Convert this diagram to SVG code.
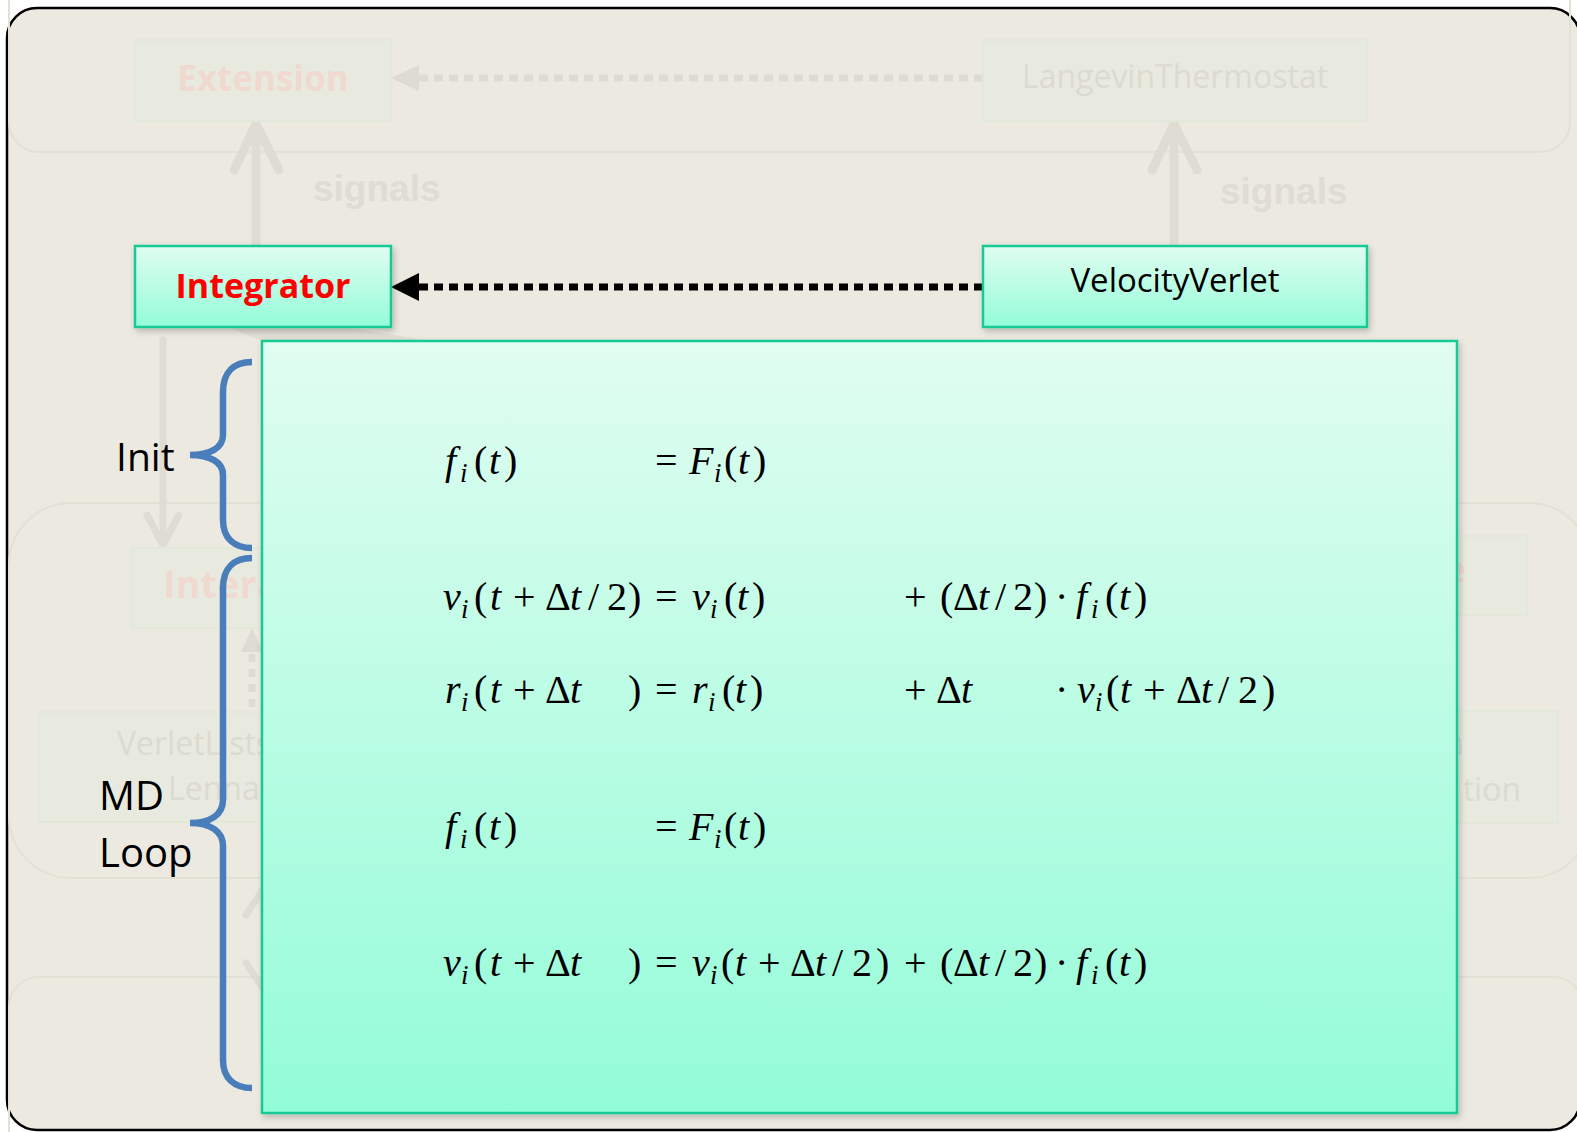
<svg xmlns="http://www.w3.org/2000/svg" width="1577" height="1132" viewBox="0 0 1577 1132">
<defs>
<linearGradient id="gBox" x1="0" y1="0" x2="0" y2="1">
<stop offset="0" stop-color="#E0FDF1"/>
<stop offset="1" stop-color="#93FCD8"/>
</linearGradient>
<filter id="sh" x="-10%" y="-10%" width="130%" height="130%">
<feDropShadow dx="2" dy="3" stdDeviation="3" flood-color="#000" flood-opacity="0.22"/>
</filter>
<style>
.fbox{fill:#E8EADF;stroke:#E2E9DA;stroke-width:2}
.lane{fill:none;stroke:#E3E0D5;stroke-width:2}
.ftxt{font-family:"Open Sans",sans-serif;fill:#DCDAD1}
.fred{font-family:"Open Sans",sans-serif;font-weight:bold;fill:#F0D9CF}
.sig{font-family:"Liberation Sans",Arial,sans-serif;font-weight:bold;font-size:37px;fill:#DFDCD4}
.fline{fill:none;stroke:#DFDCD4;stroke-linecap:round;stroke-linejoin:round}
.gbox{fill:url(#gBox);stroke:#19CA95;stroke-width:2.5;filter:url(#sh)}
.lbl{font-family:"Open Sans",sans-serif;fill:#000}
.brace{fill:none;stroke:#4A7EBB;stroke-width:6.5;stroke-linecap:butt}
.eq{font-family:"Liberation Serif","Times New Roman",serif;font-size:40px;fill:#000}
.it{font-style:italic}
.sub{font-style:italic;font-size:27px}
</style>
</defs>
<rect x="0" y="0" width="1577" height="1132" fill="#FFFFFF"/>
<rect id="frame" x="7" y="8" width="1573" height="1122" rx="30" fill="#ECE9E1" stroke="#000" stroke-width="2.5"/>

<g id="background-lanes">
<rect class="lane" x="9" y="-40" width="1561" height="192" rx="30"/>
<rect class="lane" x="9" y="503" width="1582" height="375" rx="62"/>
<rect class="lane" x="9" y="977" width="1574" height="200" rx="30"/>
</g>

<g id="faded-connectors">
<line x1="983" y1="78" x2="418" y2="78" stroke="#DEDBD2" stroke-width="7" stroke-dasharray="9 6"/>
<path d="M391,78 L419,65 L419,91 Z" fill="#DEDBD2"/>
<path class="fline" stroke-width="9" d="M256,245 L256,124 M234,170 L256,124 L279,170"/>
<path class="fline" stroke-width="9" d="M1174,245 L1174,124 M1152,170 L1174,124 L1197,170"/>
<path class="fline" stroke-width="7" d="M163,340 L163,545 M147,515 L163,545 L179,515"/>
<line x1="252" y1="722" x2="252" y2="652" stroke="#DEDBD2" stroke-width="7" stroke-dasharray="8 7"/>
<path d="M252,628 L241,652 L263,652 Z" fill="#DEDBD2"/>
<path class="fline" stroke-width="7" d="M264,888 L264,990 M246,915 L264,888 L282,915 M246,963 L264,990 L282,963"/>
</g>

<g id="node-extension">
<rect class="fbox" x="135" y="40" width="256" height="81"/>
<text class="fred" x="263" y="91" font-size="35" text-anchor="middle">Extension</text>
</g>
<g id="node-langevin">
<rect class="fbox" x="983" y="40" width="384" height="81"/>
<text class="ftxt" x="1175" y="88" font-size="32" text-anchor="middle">LangevinThermostat</text>
</g>
<text class="sig" x="313" y="201">signals</text>
<text class="sig" x="1220" y="204">signals</text>

<g id="node-interaction">
<rect class="fbox" x="132" y="548" width="300" height="80"/>
<text class="fred" x="163" y="598" font-size="38">Interaction</text>
</g>
<g id="node-right-mid">
<rect class="fbox" x="1300" y="536" width="227" height="79"/>
<text class="fred" x="1466" y="583" font-size="38" text-anchor="end">e</text>
</g>
<g id="node-verletlist">
<rect class="fbox" x="39" y="712" width="360" height="110"/>
<text class="ftxt" x="117" y="755" font-size="32">VerletLists</text>
<text class="ftxt" x="168" y="800" font-size="32">Lennard</text>
</g>
<g id="node-right-low">
<rect class="fbox" x="1300" y="711" width="258" height="112"/>
<text class="ftxt" x="1464" y="755" font-size="32" text-anchor="end">n</text>
<text class="ftxt" x="1521" y="801" font-size="32" text-anchor="end">tion</text>
</g>

<polygon points="228,327 346,327 430,341 262,341" fill="#DCD9D0" opacity="0.7"/>

<g id="connectors">
<line x1="983" y1="287" x2="417" y2="287" stroke="#000" stroke-width="7" stroke-dasharray="9 6"/>
<path d="M391,287 L419,273 L419,301 Z" fill="#000"/>
</g>

<g id="node-integrator">
<rect class="gbox" x="135" y="246" width="256" height="81"/>
<text x="263" y="298" font-family="Open Sans, sans-serif" font-weight="bold" font-size="34" fill="#FF0000" text-anchor="middle">Integrator</text>
</g>
<g id="node-velocityverlet">
<rect class="gbox" x="983" y="246" width="384" height="81"/>
<text class="lbl" x="1175" y="292" font-size="33" text-anchor="middle">VelocityVerlet</text>
</g>

<g id="node-equations">
<rect class="gbox" x="262" y="341" width="1195" height="772"/>
<text class="eq" y="474"><tspan x="445" class="it">f</tspan><tspan x="460" dy="8" class="sub">i</tspan><tspan x="474" dy="-8">(</tspan><tspan x="489" class="it">t</tspan><tspan x="504">)</tspan><tspan x="655">=</tspan><tspan x="689" class="it">F</tspan><tspan x="714" dy="8" class="sub">i</tspan><tspan x="724" dy="-8">(</tspan><tspan x="738" class="it">t</tspan><tspan x="753">)</tspan></text>
<text class="eq" y="610"><tspan x="443" class="it">v</tspan><tspan x="461" dy="8" class="sub">i</tspan><tspan x="474" dy="-8">(</tspan><tspan x="490" class="it">t</tspan><tspan x="513">+</tspan><tspan x="545">Δ</tspan><tspan x="570" class="it">t</tspan><tspan x="588">/</tspan><tspan x="607">2</tspan><tspan x="628">)</tspan><tspan x="655">=</tspan><tspan x="692" class="it">v</tspan><tspan x="710" dy="8" class="sub">i</tspan><tspan x="724" dy="-8">(</tspan><tspan x="737" class="it">t</tspan><tspan x="752">)</tspan><tspan x="904">+</tspan><tspan x="940">(</tspan><tspan x="953">Δ</tspan><tspan x="978" class="it">t</tspan><tspan x="995">/</tspan><tspan x="1013">2</tspan><tspan x="1034">)</tspan><tspan x="1055">·</tspan><tspan x="1076" class="it">f</tspan><tspan x="1091" dy="8" class="sub">i</tspan><tspan x="1105" dy="-8">(</tspan><tspan x="1119" class="it">t</tspan><tspan x="1134">)</tspan></text>
<text class="eq" y="703"><tspan x="445" class="it">r</tspan><tspan x="461" dy="8" class="sub">i</tspan><tspan x="474" dy="-8">(</tspan><tspan x="490" class="it">t</tspan><tspan x="513">+</tspan><tspan x="545">Δ</tspan><tspan x="570" class="it">t</tspan><tspan x="628">)</tspan><tspan x="655">=</tspan><tspan x="692" class="it">r</tspan><tspan x="708" dy="8" class="sub">i</tspan><tspan x="722" dy="-8">(</tspan><tspan x="735" class="it">t</tspan><tspan x="750">)</tspan><tspan x="904">+</tspan><tspan x="936">Δ</tspan><tspan x="961" class="it">t</tspan><tspan x="1055">·</tspan><tspan x="1077" class="it">v</tspan><tspan x="1095" dy="8" class="sub">i</tspan><tspan x="1106" dy="-8">(</tspan><tspan x="1120" class="it">t</tspan><tspan x="1143">+</tspan><tspan x="1176">Δ</tspan><tspan x="1201" class="it">t</tspan><tspan x="1218">/</tspan><tspan x="1238">2</tspan><tspan x="1262">)</tspan></text>
<text class="eq" y="840"><tspan x="445" class="it">f</tspan><tspan x="460" dy="8" class="sub">i</tspan><tspan x="474" dy="-8">(</tspan><tspan x="489" class="it">t</tspan><tspan x="504">)</tspan><tspan x="655">=</tspan><tspan x="689" class="it">F</tspan><tspan x="714" dy="8" class="sub">i</tspan><tspan x="724" dy="-8">(</tspan><tspan x="738" class="it">t</tspan><tspan x="753">)</tspan></text>
<text class="eq" y="976"><tspan x="443" class="it">v</tspan><tspan x="461" dy="8" class="sub">i</tspan><tspan x="474" dy="-8">(</tspan><tspan x="490" class="it">t</tspan><tspan x="513">+</tspan><tspan x="545">Δ</tspan><tspan x="570" class="it">t</tspan><tspan x="628">)</tspan><tspan x="655">=</tspan><tspan x="692" class="it">v</tspan><tspan x="710" dy="8" class="sub">i</tspan><tspan x="721" dy="-8">(</tspan><tspan x="735" class="it">t</tspan><tspan x="758">+</tspan><tspan x="790">Δ</tspan><tspan x="815" class="it">t</tspan><tspan x="832">/</tspan><tspan x="852">2</tspan><tspan x="876">)</tspan><tspan x="904">+</tspan><tspan x="940">(</tspan><tspan x="953">Δ</tspan><tspan x="978" class="it">t</tspan><tspan x="995">/</tspan><tspan x="1013">2</tspan><tspan x="1034">)</tspan><tspan x="1055">·</tspan><tspan x="1076" class="it">f</tspan><tspan x="1091" dy="8" class="sub">i</tspan><tspan x="1105" dy="-8">(</tspan><tspan x="1119" class="it">t</tspan><tspan x="1134">)</tspan></text>
</g>

<g id="brace-init">
<path class="brace" d="M252,362 C234,362 223,372 223,392 L223,435 C223,448 210,455 190,455 C210,455 223,462 223,475 L223,520 C223,538 234,548 252,548"/>
<text class="lbl" x="116" y="471" font-size="39">Init</text>
</g>
<g id="brace-mdloop">
<path class="brace" d="M252,558 C234,558 223,568 223,588 L223,800 C223,815 210,823 190,823 C210,823 223,831 223,846 L223,1060 C223,1078 234,1088 252,1088"/>
<text class="lbl" x="99" y="810" font-size="40">MD</text>
<text class="lbl" x="99" y="867" font-size="40">Loop</text>
</g>
</svg>
